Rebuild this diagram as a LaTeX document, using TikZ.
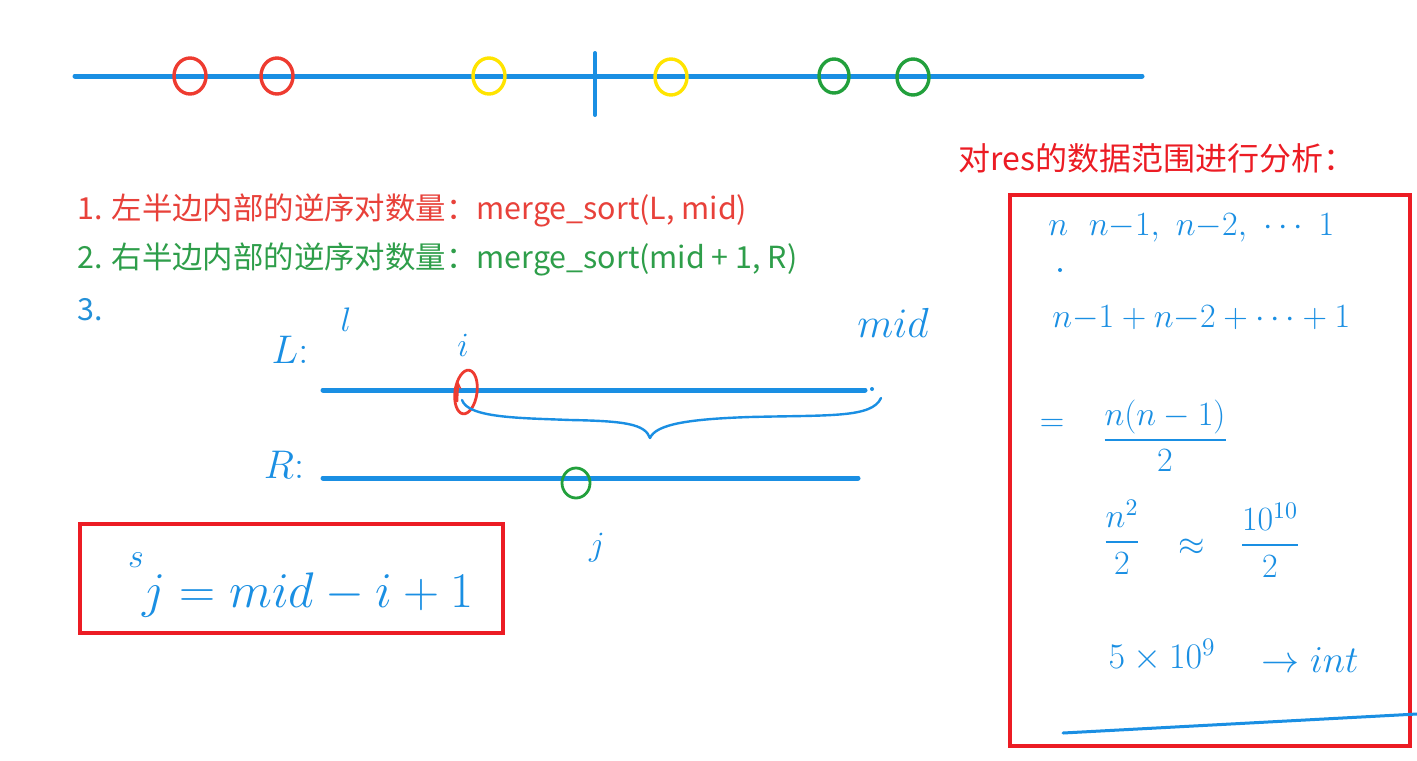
\RequirePackage{fix-cm}
\documentclass[tikz,border=0pt]{standalone}
\usepackage{amsmath}
\usepackage{fontspec}
\newfontfamily\cjk{Noto Sans CJK SC}
\usetikzlibrary{arrows.meta}
\definecolor{pen}{HTML}{1A8FE3}
\definecolor{boxred}{HTML}{EC1C24}
\definecolor{txtred}{HTML}{E8413A}
\definecolor{txtgreen}{HTML}{2E9E4A}
\definecolor{txtblue}{HTML}{2390D8}
\definecolor{cyel}{HTML}{FFE400}
\definecolor{cgreen}{HTML}{22A03C}
\definecolor{cred}{HTML}{EE3B30}
\tikzset{
  axisline/.style={pen, line width=2.5pt, line cap=round},
  ring/.style={line width=1.7pt},
  redbox/.style={boxred, line width=2pt},
  typed/.style={anchor=west, inner sep=0pt, font=\cjk\fontsize{15.2}{18}\selectfont},
  hand/.style={text=pen, inner sep=0pt, font=\fontsize{17}{20}\selectfont},
  handbig/.style={text=pen, inner sep=0pt, font=\fontsize{25}{30}\selectfont},
  penstroke/.style={pen, line width=1.2pt, line cap=round, line join=round},
}
\begin{document}
\begin{tikzpicture}[x=0.5pt,y=-0.5pt]
\useasboundingbox[fill=white] (0,0) rectangle (1417,760);

% top number line
\draw[axisline] (75,76) -- (1142,76);
\draw[pen, line width=2pt, line cap=round] (595,53) -- (595,115);
\draw[cred, ring] (190,76) ellipse [x radius=16, y radius=18];
\draw[cred, ring] (277,76) ellipse [x radius=16, y radius=18];
\draw[cyel, ring] (489,76) ellipse [x radius=16, y radius=18];
\draw[cyel, ring] (671,77) ellipse [x radius=16, y radius=18];
\draw[cgreen, ring] (834,76) ellipse [x radius=15, y radius=17];
\draw[cgreen, ring] (913,77) ellipse [x radius=16, y radius=18];

% typed list
\node[typed, text=txtred] (t1) at (77,210) {1. 左半边内部的逆序对数量：merge\_sort(L, mid)};
\node[typed, text=txtgreen] (t2) at (77,259) {2. 右半边内部的逆序对数量：merge\_sort(mid + 1, R)};
\node[typed, text=txtblue] (t3) at (77,310) {3.};

% title on the right
\node[typed, text=boxred, font=\cjk\fontsize{16}{19}\selectfont] (title) at (958,158) {对res的数据范围进行分析：};

% L and R segments
\node[hand, font=\fontsize{20}{24}\selectfont] (Llab) at (290,350) {$L{:}$};
\node[hand] (llab) at (346,320) {$l$};
\node[hand] (ilab) at (463,345) {$i$};
\node[hand, font=\fontsize{21}{25}\selectfont] (midlab) at (893,323) {$mid$};
\draw[axisline] (323,390) -- (865,390);
\fill[pen] (872,389) circle [radius=2];
\draw[cred, line width=1.4pt, rotate around={-8:(466,392)}] (466,392) ellipse [x radius=11, y radius=22];
\draw[cred, line width=1.2pt, -{Stealth[length=4pt,width=4pt]}] (457,402) -- (458,381);
\draw[penstroke] (462,400) .. controls (468,418) and (520,418) .. (570,420)
  .. controls (625,421) and (645,424) .. (650,438)
  .. controls (656,424) and (690,419) .. (750,417)
  .. controls (830,415) and (872,418) .. (881,398);
\node[hand, font=\fontsize{20}{24}\selectfont] (Rlab) at (284,465) {$R{:}$};
\draw[axisline] (323,478) -- (858,478);
\draw[cgreen, line width=1.4pt] (576,483) ellipse [x radius=14, y radius=15];
\node[hand] (jlab) at (597,548) {$j$};

% left red box with formula
\draw[redbox] (80,524) rectangle (503,633);
\node[hand] (ssup) at (136,560) {$s$};
\node[handbig, anchor=west] (sform) at (142,595) {$j = mid - i + 1$};

% right red box with analysis
\draw[redbox] (1010,195) rectangle (1410,746);
\node[hand, anchor=west] (r1) at (1048,228) {$n\ \ n{-}1,\ n{-}2,\ \cdots\ 1$};
\fill[pen] (1060,270) circle [radius=2];
\node[hand, anchor=west] (r2) at (1052,318) {$n{-}1+n{-}2+\cdots+1$};
\node[hand] (eq1) at (1052,425) {$=$};
\node[hand] (f1) at (1165,436) {$\dfrac{n(n-1)}{2}$};
\node[hand] (f2) at (1122,537) {$\dfrac{n^2}{2}$};
\node[hand] (eq2) at (1192,547) {$\approx$};
\node[hand] (f3) at (1270,540) {$\dfrac{10^{10}}{2}$};
\node[hand, font=\fontsize{18}{22}\selectfont] (r5) at (1162,655) {$5\times10^9$};
\node[hand, font=\fontsize{19}{23}\selectfont] (r6) at (1310,660) {$\rightarrow int$};
\coordinate (lineA) at (1063,733);
\coordinate (lineB) at (1417,714);
\draw[pen, line width=1.5pt, line cap=round] (lineA) -- (lineB);
\end{tikzpicture}
\end{document}
